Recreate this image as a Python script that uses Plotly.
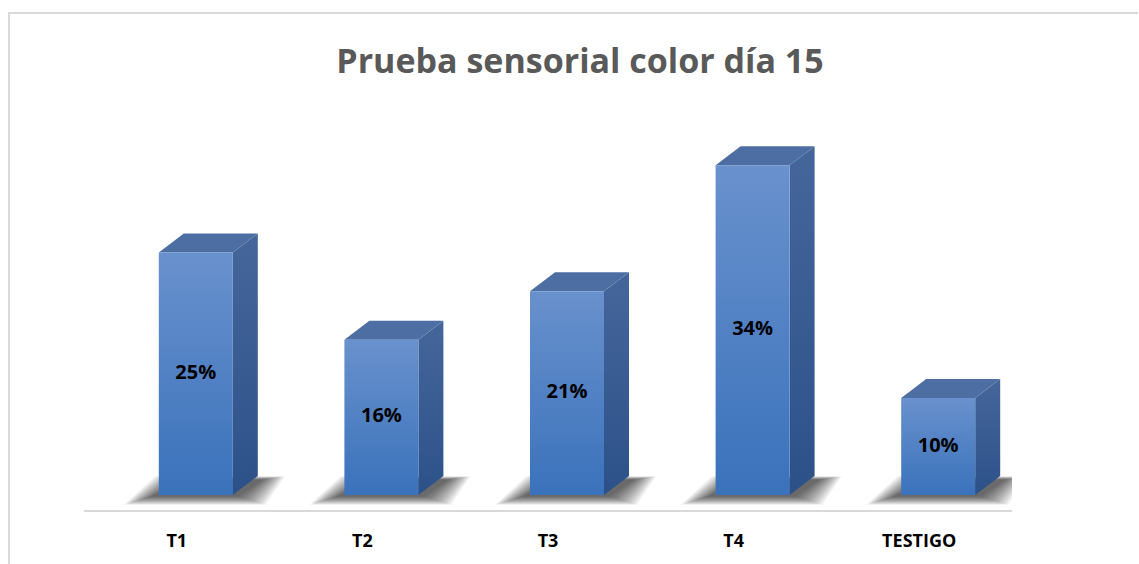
import plotly.graph_objects as go

categories = ["T1", "T2", "T3", "T4", "TESTIGO"]
values = [25, 16, 21, 34, 10]
labels = ["25%", "16%", "21%", "34%", "10%"]
title_text = "Prueba sensorial color día 15"

W, H = 1139, 564
ML, MR, MT, MB = 84, 127, 110, 54
PW, PH = W - ML - MR, H - MT - MB
XR = [-0.5, 4.5]
PXY = 9.7  # px per unit on y
Y0 = -15 / PXY
YR = [Y0, Y0 + PH / PXY]
ux = (XR[1] - XR[0]) / PW  # data per px on x
uy = 1 / PXY

FL, FR = -18 * ux, 56 * ux
DX, DY = 25 * ux, 19 * uy

FONT = "Open Sans, Lato, sans-serif"

fig = go.Figure()

# soft shadows
for i, v in enumerate(values):
    c = i
    x0, x1 = c + FL, c + FR
    for k in range(16, 0, -1):
        ex = k * 1.8 * ux
        ey = k * 0.55 * uy
        xs = [x0 - 6 * ux - ex, x1 + 4 * ux + ex, x1 + DX + 4 * ux + ex * 0.8, x0 + DX - ex]
        ys = [-1 * uy - ey, -1 * uy - ey, DY * 0.8 + ey * 0.4, DY * 0.8 + ey * 0.4]
        fig.add_trace(go.Scatter(x=xs + [xs[0]], y=ys + [ys[0]], fill="toself",
                                 fillcolor="rgba(0,0,0,0.05)", line=dict(width=0),
                                 mode="lines", hoverinfo="skip", showlegend=False))

for i, v in enumerate(values):
    c = i
    x0, x1 = c + FL, c + FR
    # side face
    fig.add_trace(go.Scatter(
        x=[x1, x1 + DX, x1 + DX, x1, x1], y=[0, DY, v + DY, v, 0],
        fill="toself", mode="lines", line=dict(width=0),
        fillgradient=dict(type="vertical", colorscale=[[0, "#2c5189"], [1, "#45669b"]]),
        hoverinfo="skip", showlegend=False))
    # top face
    fig.add_trace(go.Scatter(
        x=[x0, x1, x1 + DX, x0 + DX, x0], y=[v, v, v + DY, v + DY, v],
        fill="toself", mode="lines", line=dict(width=0),
        fillcolor="#4c6ea3", hoverinfo="skip", showlegend=False))
    # front face
    fig.add_trace(go.Scatter(
        x=[x0, x1, x1, x0, x0], y=[0, 0, v, v, 0],
        fill="toself", mode="lines", line=dict(width=0),
        fillgradient=dict(type="vertical", colorscale=[[0, "#3a72bb"], [1, "#6991cd"]]),
        hoverinfo="skip", showlegend=False))

fig.add_trace(go.Scatter(
    x=[i + (FL + FR) / 2 for i in range(len(values))], y=[v / 2 for v in values],
    mode="text", text=labels,
    textfont=dict(family=FONT, size=20, color="#000000", weight="bold"),
    hoverinfo="skip", showlegend=False))

fig.update_xaxes(range=XR, tickvals=list(range(len(categories))), ticktext=categories,
                 showgrid=False, zeroline=False, showline=True, linecolor="#d9d9d9", linewidth=2,
                 ticks="", ticklabelstandoff=13,
                 tickfont=dict(family=FONT, size=18, color="#000000", weight="bold"),
                 fixedrange=True)
fig.update_yaxes(range=YR, visible=False, fixedrange=True)

# outer border
def px2paper_x(px):
    return (px - ML) / PW
def px2paper_y(py):
    return (H - MB - py) / PH

fig.add_shape(type="path",
              path=f"M {px2paper_x(9)} {px2paper_y(600)} L {px2paper_x(9)} {px2paper_y(13)} L {px2paper_x(1138)} {px2paper_y(13)}",
              xref="paper", yref="paper", line=dict(color="#d9d9d9", width=2), layer="below")

fig.update_layout(
    width=W, height=H,
    margin=dict(l=ML, r=MR, t=MT, b=MB),
    paper_bgcolor="white", plot_bgcolor="white",
    title=dict(text=title_text, x=580 / W, xanchor="center", y=1 - 61 / H, yanchor="middle",
               yref="container", xref="container",
               font=dict(family=FONT, size=34, color="#595959", weight="bold")),
    showlegend=False,
)

fig.write_html("out.html", config={"displayModeBar": False})
